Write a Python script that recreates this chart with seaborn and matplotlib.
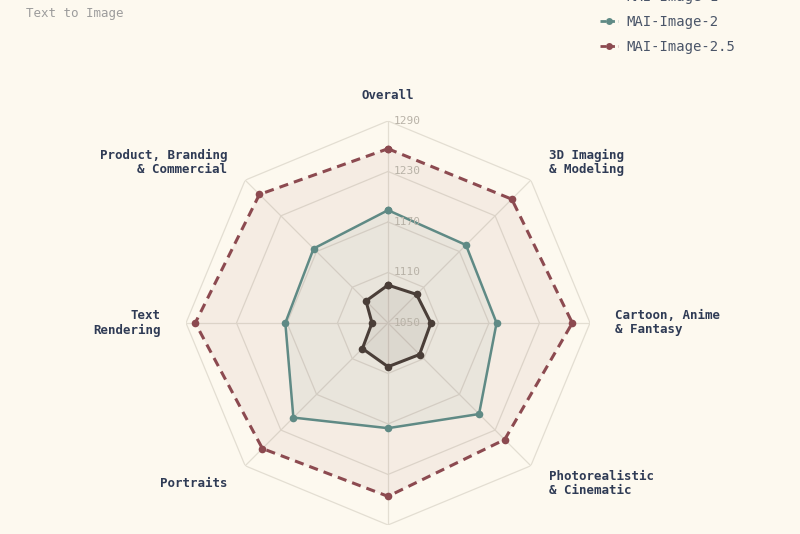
import numpy as np
import pandas as pd
import seaborn as sns
import matplotlib.pyplot as plt
from matplotlib.lines import Line2D

# data
categories = ["Overall", "3D Imaging\n& Modeling", "Cartoon, Anime\n& Fantasy",
              "Photorealistic\n& Cinematic", "Art", "Portraits", "Text\nRendering",
              "Product, Branding\n& Commercial"]
models = ["MAI-Image-1", "MAI-Image-2", "MAI-Image-2.5"]
mai_1 = [1095, 1098, 1101, 1103, 1102, 1093, 1069, 1087]
mai_2 = [1184, 1181, 1179, 1203, 1175, 1209, 1172, 1175]
mai_25 = [1257, 1258, 1269, 1246, 1256, 1261, 1279, 1266]
r_ticks = [1050, 1110, 1170, 1230, 1290]

colors = {"MAI-Image-1": "#4a3e38", "MAI-Image-2": "#5f8a85", "MAI-Image-2.5": "#8c4a50"}
bg = "#fdf9ef"
grid_c = "#e3ded2"
label_c = "#2f3b55"

sns.set_theme(style="white")
plt.rcParams["font.family"] = ["DejaVu Sans Mono", "DejaVu Sans"]

n = len(categories)
angles = np.linspace(0, 2 * np.pi, n, endpoint=False)
closed = np.append(angles, 2 * np.pi)

rows = []
for name, vals in zip(models, [mai_1, mai_2, mai_25]):
    for a, v in zip(closed, vals + vals[:1]):
        rows.append({"model": name, "theta": a, "score": v})
df = pd.DataFrame(rows)

fig = plt.figure(figsize=(8, 5.34), dpi=100, facecolor=bg)
ax = fig.add_axes([0.2325, 0.0169, 0.505, 0.7566], projection="polar")
ax.set_facecolor("none")
ax.set_theta_offset(np.pi / 2)
ax.set_theta_direction(-1)
ax.set_ylim(1050, 1290)
ax.set_xticks([])
ax.set_yticks([])
ax.grid(False)
ax.spines["polar"].set_visible(False)

# octagon grid
for v in r_ticks[1:]:
    ax.plot(closed, [v] * (n + 1), color=grid_c, lw=0.9, zorder=1)
for a in angles:
    ax.plot([a, a], [1050, 1290], color=grid_c, lw=0.9, zorder=1)

# fills
fill_alpha = {"MAI-Image-1": 0.08, "MAI-Image-2": 0.07, "MAI-Image-2.5": 0.07}
for name in models:
    sub = df[df.model == name]
    ax.fill(sub.theta, sub.score, color=colors[name], alpha=fill_alpha[name], lw=0, zorder=2)

sns.lineplot(data=df, x="theta", y="score", hue="model", style="model",
             palette=colors, sort=False, estimator=None, ax=ax, legend=False,
             dashes={"MAI-Image-1": "", "MAI-Image-2": "", "MAI-Image-2.5": (3, 2)},
             markers={"MAI-Image-1": "o", "MAI-Image-2": "o", "MAI-Image-2.5": "o"},
             markersize=5.5, markeredgewidth=0, zorder=3)
for line, name in zip(ax.lines[-3:], models):
    line.set_linewidth(2.2 if name != "MAI-Image-2" else 1.8)

ax.set_xlabel("")
ax.set_ylabel("")
ax.set_ylim(1050, 1290)

# radial tick labels
for v in r_ticks:
    ax.annotate(str(v), xy=(0, v), xytext=(4, 0), textcoords="offset points",
                ha="left", va="center", fontsize=8, color="#b8b2a7", zorder=4)

# category labels
for a, lab in zip(angles, categories):
    s = np.sin(a)
    ha = "center" if abs(s) < 1e-6 else ("left" if s > 0 else "right")
    ax.text(a, 1320, lab, ha=ha, va="center", fontsize=9, fontweight="bold",
            color=label_c, linespacing=1.1, clip_on=False)

fig.text(26 / 800, 1 - 14 / 534, "Text to Image", va="center", ha="left",
         fontsize=9, color="#9c9c9c")

handles = []
for name in models:
    ls = (0, (1.5, 1)) if True else "-"
    handles.append(Line2D([0], [0], color=colors[name], lw=2, ls=(0, (2, 1.2)),
                          marker="o", markersize=5, markeredgewidth=0))
fig.legend(handles, models, loc="upper left", bbox_to_anchor=(0.75, 1.019),
           frameon=False, fontsize=10, labelspacing=0.8, handlelength=1.3,
           handletextpad=0.6, borderpad=0, borderaxespad=0, labelcolor="#4a5568")

fig.savefig("out.png", dpi=100, facecolor=bg)
